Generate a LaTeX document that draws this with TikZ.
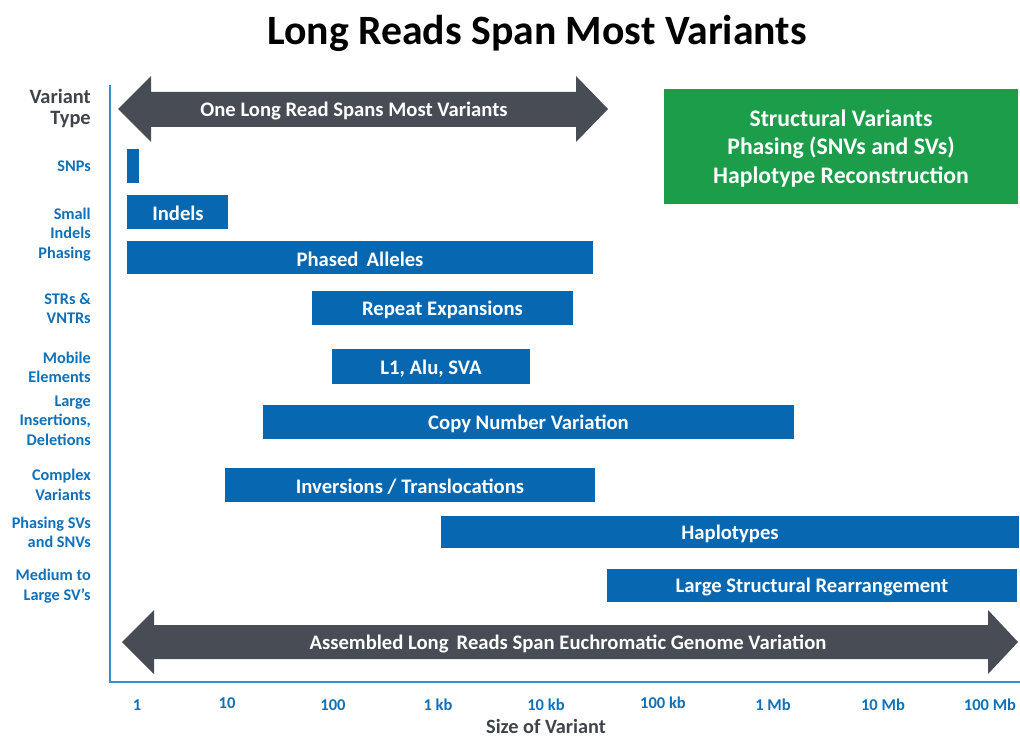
\documentclass[tikz,border=0pt]{standalone}
\usepackage{fontspec}
\setmainfont{Carlito}
\usetikzlibrary{positioning}
\definecolor{barblue}{HTML}{0767B1}
\definecolor{labelblue}{HTML}{1070B8}
\definecolor{arrowgrey}{HTML}{474C55}
\definecolor{textgrey}{HTML}{3F444C}
\definecolor{axisblue}{HTML}{3A8FC8}
\definecolor{boxgreen}{HTML}{1C9D4A}
% a bar: name, x1, y1, x2, y2, text
\newcommand{\varbar}[6]{%
  \fill[barblue] (#2,#3) rectangle (#4,#5);
  \node[bartext] (#1) at ({(#2+#4)/2},{(#3+#5)/2}) {#6};}
\tikzset{
  bartext/.style={text=white, font=\fontsize{15.5}{18}\selectfont\bfseries, inner sep=0pt, yshift=-1.3pt},
  typelabel/.style={text=labelblue, anchor=east, align=right, inner sep=0pt,
    font=\fontsize{12.2}{14.6}\selectfont\bfseries},
  ticklabel/.style={text=labelblue, inner sep=0pt, font=\fontsize{12.4}{14}\selectfont\bfseries}
}
\begin{document}
\begin{tikzpicture}[x=0.75pt, y=-0.75pt]
\useasboundingbox (0,0) rectangle (1020,738);
\node[font=\fontsize{31.3}{36}\selectfont\bfseries] (title) at (537,33) {Long Reads Span Most Variants}; % titulo
% ejes
\draw[axisblue, line width=1.2pt] (110,85) -- (110,682) -- (1020,682);
% flecha de arriba
\fill[arrowgrey] (118,109) -- (151,76) -- (151,92) -- (576,92) -- (576,76) -- (608,109)
  -- (576,142) -- (576,127) -- (151,127) -- (151,142) -- cycle;
\node[bartext] (oneread) at (354,109) {One Long Read Spans Most Variants};
% flecha de abajo
\fill[arrowgrey] (122,642) -- (154,610) -- (154,625) -- (988,625) -- (988,610) -- (1018,642)
  -- (988,674) -- (988,659) -- (154,659) -- (154,674) -- cycle;
\node[bartext] (assembled) at (568,642) {Assembled Long\, Reads Span Euchromatic Genome Variation};
% caja verde
\fill[boxgreen] (664,89) rectangle (1018,204);
\node[text=white, align=center, font=\fontsize{17.8}{21.4}\selectfont\bfseries] (svbox) at (841,148.5)
  {Structural Variants\\Phasing (SNVs and SVs)\\Haplotype Reconstruction};
% etiquetas de tipo
\node[typelabel, text=textgrey, font=\fontsize{15.3}{15.75}\selectfont\bfseries] (vtype) at (91,108.5) {Variant\\Type};
\node[typelabel] (snps) at (91,166.5) {SNPs};
\node[typelabel] (small) at (91,234.5) {Small\\Indels\\Phasing};
\node[typelabel] (strs) at (91,308.5) {STRs \&\\VNTRs};
\node[typelabel] (mobile) at (91,367.5) {Mobile\\Elements};
\node[typelabel] (large) at (91,420.5) {Large\\Insertions,\\Deletions};
\node[typelabel] (complex) at (91,485) {Complex\\Variants};
\node[typelabel] (phasingsv) at (91,532.5) {Phasing SVs\\and SNVs};
\node[typelabel] (medium) at (91,586) {Medium to\\Large SV’s};
% barras
\fill[barblue] (127,149) rectangle (139,183); % SNPs
\fill[barblue] (127,195) rectangle (228,229);
\node[bartext] (indels) at (178,212) {Indels};
\varbar{phased}{127}{241}{593}{274}{Phased\, Alleles}
\varbar{repeat}{312}{291}{573}{325}{Repeat Expansions}
\varbar{mei}{332}{349}{530}{384}{L1, Alu, SVA}
\varbar{cnv}{263}{405}{794}{439}{Copy Number Variation}
\varbar{inv}{225}{468}{595}{502}{Inversions / Translocations}
\varbar{haplo}{441}{516}{1019}{548}{Haplotypes}
\varbar{lsr}{607}{569}{1017}{602}{Large Structural Rearrangement}
% eje x
\node[ticklabel] (t1) at (137,705) {1};
\node[ticklabel] (t10) at (227,703) {10};
\node[ticklabel] (t100) at (333,705) {100};
\node[ticklabel] (t1k) at (438,705) {1 kb};
\node[ticklabel] (t10k) at (546,705) {10 kb};
\node[ticklabel] (t100k) at (663,703) {100 kb};
\node[ticklabel] (t1m) at (773,705) {1 Mb};
\node[ticklabel] (t10m) at (883,705) {10 Mb};
\node[ticklabel] (t100m) at (990,705) {100 Mb};
\node[text=textgrey, font=\fontsize{15.2}{16}\selectfont\bfseries] (xlabel) at (546,726) {Size of Variant};
\end{tikzpicture}
\end{document}
